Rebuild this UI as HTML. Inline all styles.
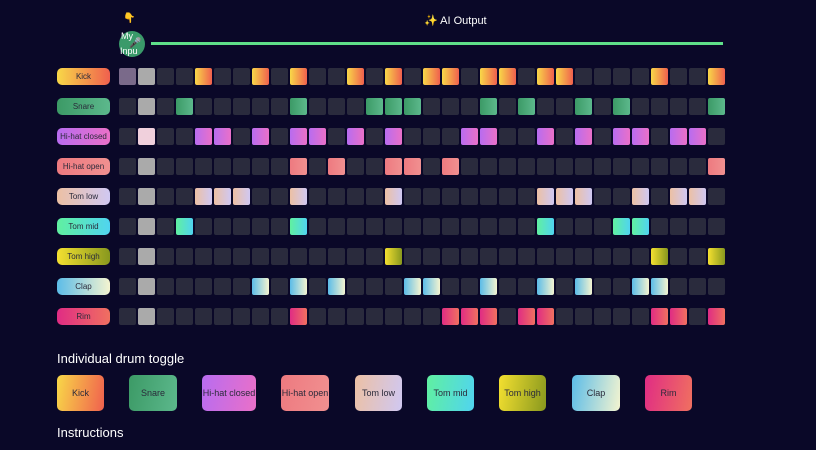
<!DOCTYPE html>
<html><head><meta charset="utf-8"><style>
body{margin:0;width:816px;height:450px;background:#0a0828;overflow:hidden;font-family:"Liberation Sans","DejaVu Sans",sans-serif;position:relative}
.a{position:absolute}
.c{position:absolute;width:17px;height:17px;border-radius:2px;background:#2a2b3d}
.l{position:absolute;left:57px;width:53px;height:17px;border-radius:5px;font-size:8px;color:#2a2a3a;text-align:center;line-height:17px;white-space:nowrap;overflow:hidden}
.b{position:absolute;top:375px;height:36px;border-radius:5px;font-size:9px;color:#2a2a3a;text-align:center;line-height:36px;white-space:nowrap}
</style></head><body>
<div class="a" style="left:123px;top:13px;font-size:10px">👇</div>
<div class="a" style="left:424px;top:14px;font-size:11px;color:#fff">✨ AI Output</div>
<div class="a" style="left:119px;top:31px;width:26px;height:26px;border-radius:50%;background:#3a9a6a;color:#fff;font-size:9px;line-height:10px;overflow:visible"><span style="position:absolute;left:2px;top:0">My</span><span style="position:absolute;left:10px;top:8px;font-size:10px">🎤</span><span style="position:absolute;left:1px;top:15px">Inpu</span></div>
<div class="a" style="left:151px;top:42px;width:572px;height:3px;background:#5fe08a"></div>
<div class="a" style="left:57px;top:351px;font-size:13px;color:#fff">Individual drum toggle</div>
<div class="a" style="left:57px;top:425px;font-size:13px;color:#fff">Instructions</div>
<div id="g"></div>
<script>
var rows=[
["Kick","linear-gradient(90deg,#f8d848,#f0604e)",[4,7,9,12,14,16,17,19,20,22,23,28,31]],
["Snare","linear-gradient(90deg,#3c9a66,#5cb88c)",[3,9,13,14,15,19,21,24,26,31]],
["Hi-hat closed","linear-gradient(90deg,#b86cf0,#ea70c8)",[4,5,7,9,10,12,14,18,19,22,24,26,27,29,30]],
["Hi-hat open","linear-gradient(90deg,#ee7a80,#f09090)",[9,11,14,15,17,31]],
["Tom low","linear-gradient(90deg,#ecc0a4,#d0c8f2)",[4,5,6,9,14,22,23,24,27,29,30]],
["Tom mid","linear-gradient(90deg,#60f0a0,#50d4f0)",[3,9,22,26,27]],
["Tom high","linear-gradient(90deg,#f4e030,#88981e)",[14,28,31]],
["Clap","linear-gradient(90deg,#5cbce8,#f4f4d0)",[7,9,11,15,16,19,22,24,27,28]],
["Rim","linear-gradient(90deg,#e02c84,#f07060)",[9,17,18,19,21,22,28,29,31]]];
var bx=[[57,47],[129,48],[202,54],[281,48],[355,47],[427,47],[499,47],[572,48],[645,47]];
var h="";
rows.forEach(function(r,i){var y=68+i*30;
h+='<div class="l" style="top:'+y+'px;background:'+r[1]+'">'+r[0]+'</div>';
for(var j=0;j<32;j++){var bg="";
if(j==1)bg=(i==2?"#f0d0dc":"#aaaaaa");else if(j==0&&i==0)bg="#7a6a8a";else if(r[2].indexOf(j)>=0)bg=r[1];
h+='<div class="c" style="left:'+(119+j*19)+'px;top:'+y+'px;'+(bg?'background:'+bg:'')+'"></div>';}
h+='<div class="b" style="left:'+bx[i][0]+'px;width:'+bx[i][1]+'px;background:'+r[1].replace("90deg","100deg")+'">'+r[0]+'</div>';});
document.getElementById("g").innerHTML=h;
</script>
</body></html>
